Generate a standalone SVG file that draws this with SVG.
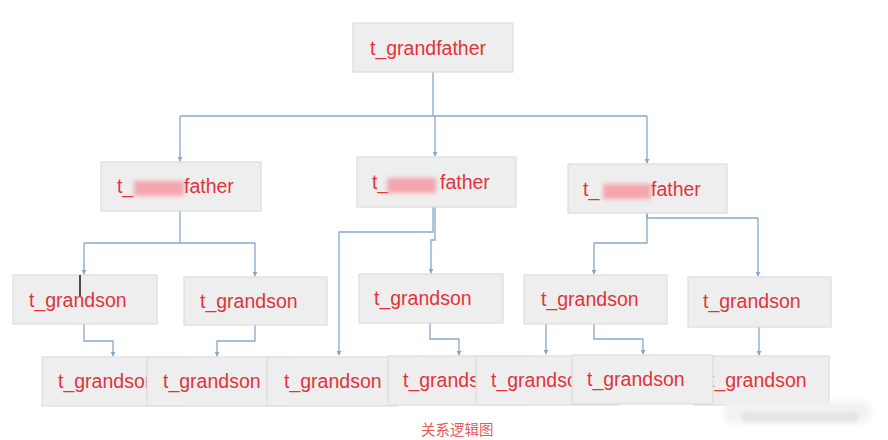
<svg xmlns="http://www.w3.org/2000/svg" width="888" height="440" viewBox="0 0 888 440">
<defs>
<style>
.box{fill:#eeeeee;stroke:#dddddd;stroke-width:1.2}
.t{font-family:"Liberation Sans",Arial,sans-serif;font-size:19.5px;fill:#e2333c}
.c{fill:none;stroke:#86a8cc;stroke-width:1.3}
.cap{font-family:"Noto Sans CJK SC","Liberation Sans",sans-serif;font-size:14.5px;fill:#e65a5a}
.blob{fill:#f4a6ae}
</style>
<marker id="a" viewBox="0 0 6 6" refX="5" refY="3" markerWidth="5" markerHeight="5" orient="auto" markerUnits="userSpaceOnUse">
<path d="M0,0 L6,3 L0,6 Z" fill="#86a8cc"/>
</marker>
<filter id="bl" x="-20%" y="-50%" width="140%" height="200%"><feGaussianBlur stdDeviation="2"/></filter>
<filter id="bl2" x="-20%" y="-80%" width="140%" height="260%"><feGaussianBlur stdDeviation="3"/></filter>
</defs>
<rect width="888" height="440" fill="#ffffff"/>

<g id="connectors">
<path class="c" d="M433,72 V116"/>
<path class="c" d="M180,116 H647"/>
<path class="c" d="M180,116 V161" marker-end="url(#a)"/>
<path class="c" d="M435,116 V156" marker-end="url(#a)"/>
<path class="c" d="M647,116 V163" marker-end="url(#a)"/>

<path class="c" d="M180,211 V243"/>
<path class="c" d="M84,243 H255"/>
<path class="c" d="M84,243 V274" marker-end="url(#a)"/>
<path class="c" d="M255,243 V276" marker-end="url(#a)"/>

<path class="c" d="M433,207 V232 H339 V355" marker-end="url(#a)"/>
<path class="c" d="M435,207 V240 H431 V273" marker-end="url(#a)"/>

<path class="c" d="M647,213 V218 H758 V276" marker-end="url(#a)"/>
<path class="c" d="M647,213 V243 H594 V274" marker-end="url(#a)"/>

<path class="c" d="M84,324 V341 H113 V356" marker-end="url(#a)"/>
<path class="c" d="M255,325 V341 H217 V356" marker-end="url(#a)"/>
<path class="c" d="M430,323 V339 H459 V355" marker-end="url(#a)"/>
<path class="c" d="M591,323 H546 V354" marker-end="url(#a)"/>
<path class="c" d="M594,323 V339 H643 V354" marker-end="url(#a)"/>
<path class="c" d="M759,327 V355" marker-end="url(#a)"/>
</g>

<g id="grandfather">
<rect class="box" x="353" y="23" width="160" height="49"/>
<text class="t" x="370" y="55">t_grandfather</text>
</g>

<g id="father1">
<rect class="box" x="101" y="162" width="160" height="49"/>
<text class="t" x="117" y="193">t_</text>
<rect class="blob" x="134" y="181" width="50" height="15" filter="url(#bl)"/>
<text class="t" x="184" y="193">father</text>
</g>

<g id="father2">
<rect class="box" x="357" y="157" width="159" height="50"/>
<text class="t" x="372" y="189">t_</text>
<rect class="blob" x="387" y="178" width="49" height="15" filter="url(#bl)"/>
<text class="t" x="440" y="189">father</text>
</g>

<g id="father3">
<rect class="box" x="568" y="164" width="159" height="49"/>
<text class="t" x="583" y="196">t_</text>
<rect class="blob" x="603" y="184" width="48" height="15" filter="url(#bl)"/>
<text class="t" x="651" y="196">father</text>
</g>

<g id="grandson1">
<rect class="box" x="13" y="275" width="144" height="49"/>
<text class="t" x="29" y="307">t_grandson</text>
<line x1="80" y1="275" x2="80" y2="296" stroke="#222222" stroke-width="1.6"/>
</g>
<g id="grandson2">
<rect class="box" x="184" y="277" width="143" height="48"/>
<text class="t" x="200" y="308">t_grandson</text>
</g>
<g id="grandson3">
<rect class="box" x="359" y="274" width="144" height="49"/>
<text class="t" x="374" y="305">t_grandson</text>
</g>
<g id="grandson4">
<rect class="box" x="524" y="275" width="143" height="49"/>
<text class="t" x="541" y="306">t_grandson</text>
</g>
<g id="grandson5">
<rect class="box" x="688" y="277" width="143" height="50"/>
<text class="t" x="703" y="308">t_grandson</text>
</g>

<g id="grandson6">
<rect class="box" x="42" y="357" width="143" height="49"/>
<text class="t" x="58" y="388">t_grandson</text>
</g>
<g id="grandson7">
<rect class="box" x="147" y="357" width="143" height="49"/>
<text class="t" x="163" y="388">t_grandson</text>
</g>
<g id="grandson8">
<rect class="box" x="267" y="357" width="130" height="49"/>
<text class="t" x="284" y="388">t_grandson</text>
</g>
<g id="grandson9">
<rect class="box" x="388" y="356" width="143" height="49"/>
<text class="t" x="403" y="387">t_grandson</text>
</g>
<g id="grandson10">
<rect class="box" x="476" y="356" width="143" height="49"/>
<text class="t" x="491" y="387">t_grandson</text>
</g>
<g id="grandson12">
<rect class="box" x="694" y="356" width="135" height="49"/>
<text class="t" x="709" y="387">t_grandson</text>
</g>
<g id="grandson11">
<rect class="box" x="572" y="355" width="141" height="49"/>
<text class="t" x="587" y="386">t_grandson</text>
</g>

<rect x="724" y="402" width="146" height="20" fill="#f2f2f2" filter="url(#bl2)"/>
<rect x="742" y="412" width="116" height="10" fill="#e4e4e4" filter="url(#bl)"/>

<text class="cap" x="421" y="435">关系逻辑图</text>
</svg>
